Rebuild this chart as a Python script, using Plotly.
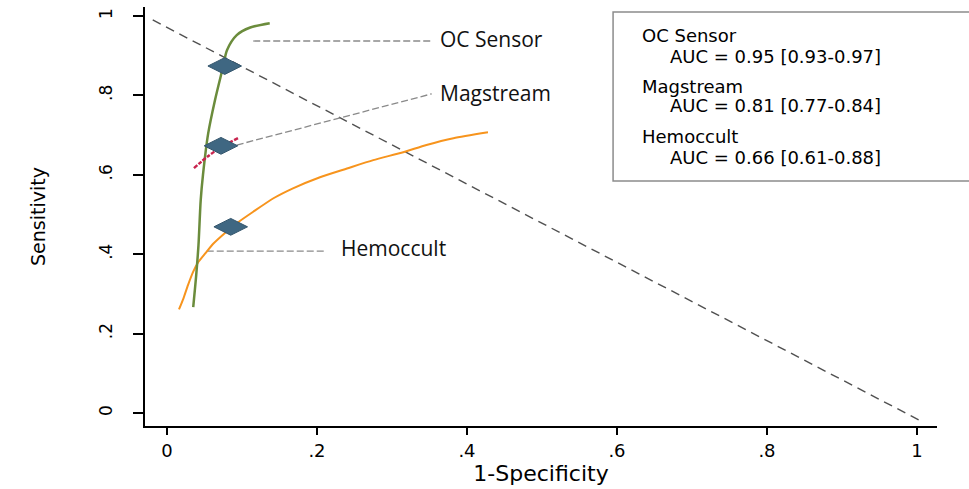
import plotly.graph_objects as go

# ---- data ----
oc_x = [0.035, 0.039, 0.042, 0.045, 0.048, 0.055, 0.064, 0.075, 0.080, 0.093, 0.111, 0.137]
oc_y = [0.267, 0.348, 0.423, 0.537, 0.600, 0.705, 0.788, 0.874, 0.914, 0.952, 0.971, 0.982]

mag_x = [0.036, 0.057, 0.073, 0.095]
mag_y = [0.617, 0.650, 0.670, 0.693]

hem_x = [0.016, 0.022, 0.028, 0.035, 0.042, 0.051, 0.062, 0.077, 0.093, 0.115, 0.142,
         0.168, 0.204, 0.240, 0.275, 0.315, 0.346, 0.382, 0.428]
hem_y = [0.261, 0.289, 0.322, 0.356, 0.381, 0.402, 0.427, 0.453, 0.478, 0.507, 0.541,
         0.566, 0.594, 0.616, 0.637, 0.657, 0.675, 0.692, 0.707]

point_names = ["OC Sensor", "Magstream", "Hemoccult"]
point_x = [0.077, 0.072, 0.085]
point_y = [0.874, 0.673, 0.469]

diag_x = [-0.019, 1.003]
diag_y = [0.990, -0.018]

label_names = ["OC Sensor", "Magstream", "Hemoccult"]
leader_x0 = [0.115, 0.093, 0.053]
leader_y0 = [0.937, 0.675, 0.408]
leader_x1 = [0.351, 0.353, 0.211]
leader_y1 = [0.937, 0.804, 0.408]
label_x = [0.362, 0.362, 0.229]
label_y = [0.942, 0.806, 0.416]

auc_names = ["OC Sensor", "Magstream", "Hemoccult"]
auc_text = ["AUC = 0.95 [0.93-0.97]", "AUC = 0.81 [0.77-0.84]", "AUC = 0.66 [0.61-0.88]"]

x_ticks = [0, 0.2, 0.4, 0.6, 0.8, 1]
x_ticktext = ["0", ".2", ".4", ".6", ".8", "1"]
y_ticks = [0, 0.2, 0.4, 0.6, 0.8, 1]
y_ticktext = ["0", ".2", ".4", ".6", ".8", "1"]

FONT = "DejaVu Sans, Liberation Sans, Arial, sans-serif"
LFONT = "Open Sans, Lato, sans-serif"

fig = go.Figure()

# diagonal reference line
fig.add_trace(go.Scatter(x=diag_x, y=diag_y, mode="lines",
                         line=dict(color="#505050", width=1.4, dash="9px,6px"),
                         hoverinfo="skip", showlegend=False))

# leader lines
for i in range(len(label_names)):
    fig.add_trace(go.Scatter(x=[leader_x0[i], leader_x1[i]], y=[leader_y0[i], leader_y1[i]],
                             mode="lines",
                             line=dict(color="#8a8a8a", width=1.3, dash="7px,3px"),
                             hoverinfo="skip", showlegend=False))

# ROC curves
fig.add_trace(go.Scatter(x=hem_x, y=hem_y, mode="lines", name="Hemoccult",
                         line=dict(color="#f7941d", width=2, shape="spline", smoothing=0.6),
                         showlegend=False))
fig.add_trace(go.Scatter(x=oc_x, y=oc_y, mode="lines", name="OC Sensor",
                         line=dict(color="#6b8c3c", width=2.5, shape="spline", smoothing=0.8),
                         showlegend=False))
fig.add_trace(go.Scatter(x=mag_x, y=mag_y, mode="lines", name="Magstream",
                         line=dict(color="#c8244e", width=2.5, dash="4px,1.5px", shape="spline"),
                         showlegend=False))

# operating points
fig.add_trace(go.Scatter(x=point_x, y=point_y, mode="markers", text=point_names,
                         marker=dict(symbol="diamond-wide", size=24, color="#3f6782",
                                     line=dict(color="#34566d", width=1)),
                         showlegend=False))

# curve labels
for i in range(len(label_names)):
    fig.add_annotation(x=label_x[i], y=label_y[i], xref="x", yref="y",
                       text=label_names[i], showarrow=False,
                       xanchor="left", yanchor="middle",
                       font=dict(family=LFONT, size=21, color="#111111"))

# AUC box
fig.add_shape(type="rect", xref="paper", yref="paper",
              x0=0.591, x1=1.06, y0=0.585, y1=0.988,
              line=dict(color="#8c8c8c", width=1.5), fillcolor="rgba(0,0,0,0)")
box_y_name = [0.931, 0.811, 0.692]
box_y_auc = [0.881, 0.764, 0.642]
for i in range(len(auc_names)):
    fig.add_annotation(x=0.625, y=box_y_name[i], xref="paper", yref="paper",
                       text=auc_names[i], showarrow=False, xanchor="left", yanchor="middle",
                       font=dict(family=FONT, size=18, color="#000000"))
    fig.add_annotation(x=0.660, y=box_y_auc[i], xref="paper", yref="paper",
                       text=auc_text[i], showarrow=False, xanchor="left", yanchor="middle",
                       font=dict(family=FONT, size=18, color="#000000"))

fig.update_layout(
    width=969, height=489,
    margin=dict(l=145, r=32, t=7, b=63, autoexpand=False),
    paper_bgcolor="white", plot_bgcolor="white",
    showlegend=False,
    xaxis=dict(range=[-0.0293, 1.0267], tickvals=x_ticks, ticktext=x_ticktext,
               automargin=False,
               showgrid=False, zeroline=False, showline=True, linecolor="#000000", linewidth=2,
               ticks="outside", ticklen=7, tickwidth=2, tickcolor="#000000",
               tickfont=dict(family=FONT, size=18, color="#000000"),
               title=dict(text="1-Specificity", font=dict(family=FONT, size=22, color="#000000"),
                          standoff=4)),
    yaxis=dict(range=[-0.0327, 1.0227], tickvals=y_ticks, ticktext=y_ticktext,
               automargin=False,
               showgrid=False, zeroline=False, showline=True, linecolor="#000000", linewidth=2,
               ticks="outside", ticklen=10, tickwidth=2, tickcolor="#000000", tickangle=-90,
               ticklabelstandoff=14,
               tickfont=dict(family=FONT, size=17, color="#000000"),
               title=dict(text="Sensitivity", font=dict(family=FONT, size=19, color="#000000"),
                          standoff=46)),
)

fig.write_html("out.html", config={"displayModeBar": False},
               post_script="document.body.style.margin='0';document.body.style.overflow='hidden';")
